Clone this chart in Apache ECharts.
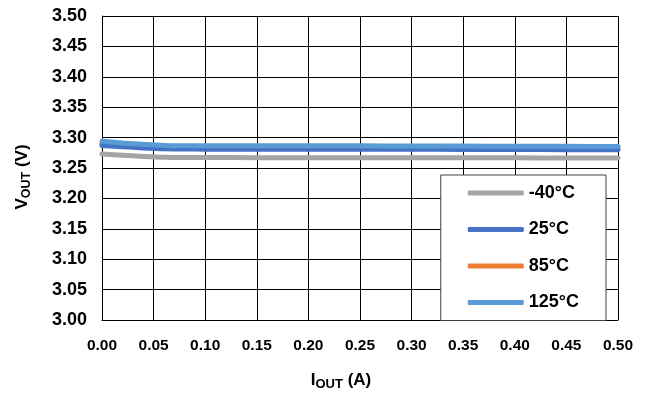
<!DOCTYPE html>
<html>
<head>
<meta charset="utf-8">
<script src="https://cdn.jsdelivr.net/npm/echarts@6/dist/echarts.min.js"></script>
<style>
  html, body { margin: 0; padding: 0; background: #fff; }
  #chart { width: 647px; height: 396px; }
</style>
</head>
<body>
<div id="chart"></div>
<script>
// Output current (A)
const iout = [0, 0.02, 0.04, 0.06, 0.08, 0.10, 0.15, 0.20, 0.25, 0.30, 0.35, 0.40, 0.45, 0.50];

// Output voltage (V) per temperature
const vMinus40 = [3.273, 3.271, 3.269, 3.2675, 3.2672, 3.2672, 3.2670, 3.2670, 3.2670, 3.2669, 3.2668, 3.2667, 3.2666, 3.2665];
const v25      = [3.287, 3.285, 3.283, 3.2815, 3.2812, 3.2810, 3.2810, 3.2810, 3.2809, 3.2808, 3.2806, 3.2804, 3.2802, 3.2800];
const v85      = [3.290, 3.2875, 3.2855, 3.2840, 3.2836, 3.2833, 3.2832, 3.2831, 3.2830, 3.2829, 3.2828, 3.2826, 3.2824, 3.2822];
const v125     = [3.294, 3.2912, 3.2890, 3.2872, 3.2867, 3.2865, 3.2865, 3.2865, 3.2864, 3.2862, 3.2860, 3.2858, 3.2856, 3.2854];

const seriesNames = ['-40°C', '25°C', '85°C', '125°C'];
const xTicks = { min: 0, max: 0.5, step: 0.05 };
const yTicks = { min: 3.0, max: 3.5, step: 0.05 };

const pair = (ys) => iout.map((x, i) => [x, ys[i]]);

const font = 'Liberation Sans, Arial, sans-serif';
const chart = echarts.init(document.getElementById('chart'));

const makeSeries = (name, ys, color, z) => ({
  name,
  type: 'line',
  data: pair(ys),
  symbol: 'none',
  smooth: 0.3,
  z,
  lineStyle: { color, width: 5, cap: 'round' },
  itemStyle: { color }
});

chart.setOption({
  animation: false,
  backgroundColor: '#fff',
  grid: { left: 102, right: 29, top: 16, bottom: 73, show: false },
  xAxis: {
    type: 'value',
    min: xTicks.min, max: xTicks.max, interval: xTicks.step,
    name: '{a|I}{b|OUT}{a| (A)}',
    nameLocation: 'middle',
    nameGap: 50,
    nameTextStyle: {
      padding: [0, 38, 0, 0],
      rich: {
        a: { fontFamily: font, fontWeight: 'bold', fontSize: 17, color: '#000' },
        b: { fontFamily: font, fontWeight: 'bold', fontSize: 13, color: '#000', padding: [8, 0, 0, 0] }
      }
    },
    axisLine: { show: true, lineStyle: { color: '#000', width: 1 } },
    axisTick: { show: false },
    axisLabel: {
      margin: 18,
      fontFamily: font, fontWeight: 'bold', fontSize: 15.5, color: '#000',
      formatter: (v) => v.toFixed(2)
    },
    splitLine: { show: true, lineStyle: { color: '#000', width: 1 } }
  },
  yAxis: {
    type: 'value',
    min: yTicks.min, max: yTicks.max, interval: yTicks.step,
    name: '{a|V}{b|OUT}{a| (V)}',
    nameLocation: 'middle',
    nameGap: 69,
    nameRotate: 90,
    nameTextStyle: {
      padding: [0, 18, 0, 0],
      rich: {
        a: { fontFamily: font, fontWeight: 'bold', fontSize: 17, color: '#000' },
        b: { fontFamily: font, fontWeight: 'bold', fontSize: 12.5, color: '#000', padding: [8, 0, 0, 0] }
      }
    },
    axisLine: { show: true, lineStyle: { color: '#000', width: 1 } },
    axisTick: { show: false },
    axisLabel: {
      margin: 15,
      fontFamily: font, fontWeight: 'bold', fontSize: 18, color: '#000',
      formatter: (v) => v.toFixed(2)
    },
    splitLine: { show: true, lineStyle: { color: '#000', width: 1 } }
  },
  legend: {
    data: seriesNames,
    orient: 'vertical',
    right: 41,
    top: 175,
    padding: [9, 27, 9, 27],
    icon: 'roundRect',
    itemWidth: 56,
    itemHeight: 5,
    itemGap: 18.5,
    backgroundColor: '#fff',
    borderColor: '#404040',
    borderWidth: 1,
    textStyle: { fontFamily: font, fontWeight: 'bold', fontSize: 18, lineHeight: 18, color: '#000' }
  },
  series: [
    makeSeries(seriesNames[0], vMinus40, '#A5A5A5', 2),
    makeSeries(seriesNames[2], v85, '#ED7D31', 3),
    makeSeries(seriesNames[1], v25, '#4472C4', 4),
    makeSeries(seriesNames[3], v125, '#5B9BD5', 5)
  ]
});
</script>
</body>
</html>
